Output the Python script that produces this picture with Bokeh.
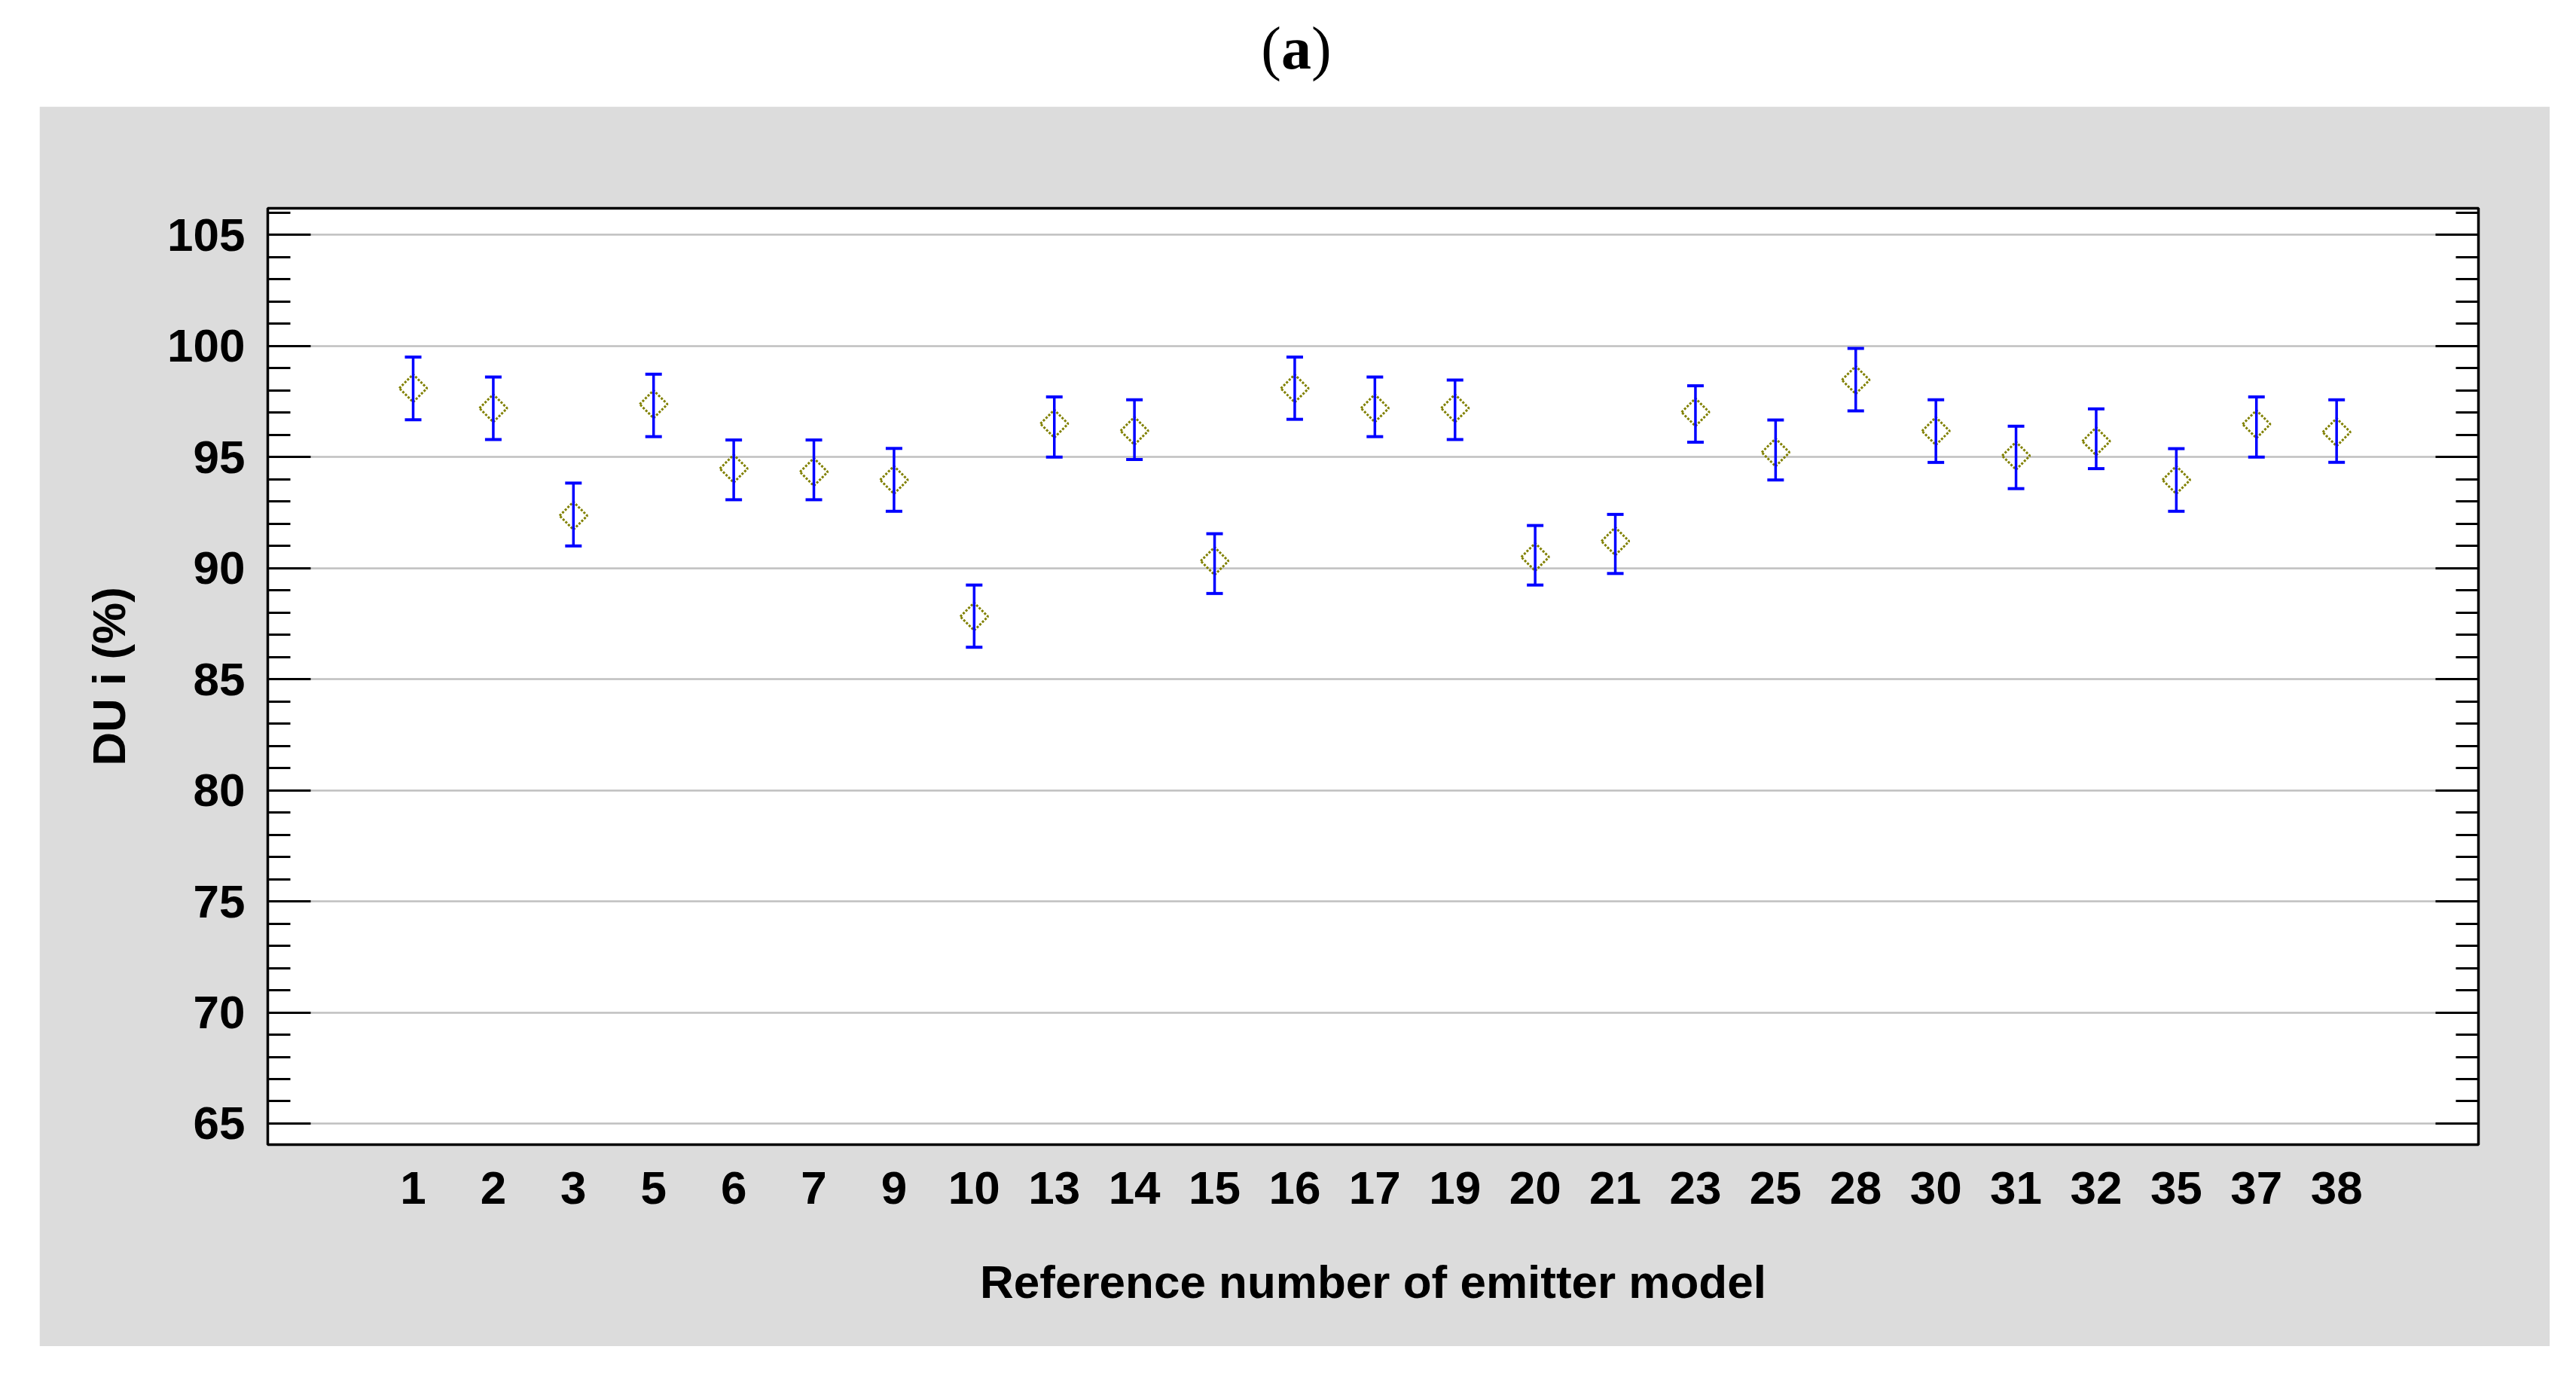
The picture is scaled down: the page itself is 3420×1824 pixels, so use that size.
import numpy as np
from bokeh.plotting import figure
from bokeh.models import (ColumnDataSource, Range1d, LinearAxis, FixedTicker,
                          Whisker, TeeHead, Div, Spacer)
from bokeh.layouts import column, row
from bokeh.embed import file_html
from bokeh.resources import INLINE

# ---- data ----
models = ["1", "2", "3", "5", "6", "7", "9", "10", "13", "14", "15", "16", "17",
          "19", "20", "21", "23", "25", "28", "30", "31", "32", "35", "37", "38"]
du_mean = [98.10, 97.20, 92.36, 97.38, 94.48, 94.33, 93.97, 87.82, 96.50, 96.18,
           90.32, 98.09, 97.20, 97.20, 90.50, 91.21, 97.02, 95.21, 98.47, 96.17,
           95.06, 95.71, 93.97, 96.48, 96.12]
du_upper = [99.50, 98.60, 93.83, 98.73, 95.77, 95.77, 95.39, 89.24, 97.71, 97.58,
            91.55, 99.50, 98.60, 98.47, 91.92, 92.42, 98.21, 96.67, 99.89, 97.58,
            96.39, 97.17, 95.38, 97.71, 97.58]
du_lower = [96.68, 95.79, 91.00, 95.92, 93.08, 93.08, 92.56, 86.44, 95.00, 94.89,
            88.86, 96.70, 95.92, 95.79, 89.24, 89.76, 95.67, 93.97, 97.08, 94.76,
            93.58, 94.48, 92.56, 95.00, 94.76]
y_ticks = [65, 70, 75, 80, 85, 90, 95, 100, 105]
y_minor = list(range(64, 107))

x_pos = list(range(1, len(models) + 1))
src = ColumnDataSource(dict(x=x_pos, mean=du_mean, upper=du_upper, lower=du_lower))

FONT = "Liberation Sans"
GRAY = "#dcdcdc"

p = figure(width=3333, height=1646, output_backend="svg", toolbar_location=None,
           x_range=Range1d(-0.814, 26.77), y_range=Range1d(64.05, 106.2),
           min_border_left=303, min_border_right=95, min_border_top=135,
           min_border_bottom=268,
           background_fill_color="white", border_fill_color=GRAY,
           outline_line_color="black", outline_line_width=3.5)

# grid
p.xgrid.visible = False
p.ygrid.ticker = FixedTicker(ticks=y_ticks)
p.ygrid.grid_line_color = "#c0c0c0"
p.ygrid.grid_line_width = 2.5

# x axis
xa = p.xaxis[0]
xa.ticker = FixedTicker(ticks=x_pos)
xa.major_label_overrides = {x: m for x, m in zip(x_pos, models)}
xa.major_tick_in = 0
xa.major_tick_out = 0
xa.minor_tick_line_color = None
xa.axis_line_color = None
xa.major_label_standoff = 36
xa.major_label_text_font = FONT
xa.major_label_text_font_style = "bold"
xa.major_label_text_font_size = "62px"
xa.major_label_text_color = "black"
xa.axis_label = "Reference number of emitter model"
xa.axis_label_text_font = FONT
xa.axis_label_text_font_style = "bold"
xa.axis_label_text_font_size = "62px"
xa.axis_label_text_color = "black"
xa.axis_label_standoff = 66


def style_y(ax):
    ax.ticker = FixedTicker(ticks=y_ticks, minor_ticks=y_minor)
    ax.major_tick_in = 57
    ax.major_tick_out = 0
    ax.minor_tick_in = 30
    ax.minor_tick_out = 0
    ax.major_tick_line_width = 3
    ax.minor_tick_line_width = 3
    ax.major_tick_line_color = "black"
    ax.minor_tick_line_color = "black"
    ax.axis_line_color = None
    ax.major_label_standoff = 30
    ax.major_label_text_font = FONT
    ax.major_label_text_font_style = "bold"
    ax.major_label_text_font_size = "62px"
    ax.major_label_text_color = "black"


ya = p.yaxis[0]
style_y(ya)
ya.axis_label = "DU i (%)"
ya.axis_label_text_font = FONT
ya.axis_label_text_font_style = "bold"
ya.axis_label_text_font_size = "62px"
ya.axis_label_text_color = "black"
ya.axis_label_standoff = 40

ra = LinearAxis()
style_y(ra)
ra.major_label_overrides = {t: "" for t in y_ticks}
p.add_layout(ra, "right")

# error bars
wh = Whisker(source=src, base="x", upper="upper", lower="lower",
             line_color="#0000ff", line_width=3.5, level="overlay",
             upper_head=TeeHead(size=22, line_color="#0000ff", line_width=4),
             lower_head=TeeHead(size=22, line_color="#0000ff", line_width=4))
p.add_layout(wh)

# mean markers (open olive diamonds)
p.scatter("x", "mean", source=src, marker="square", angle=np.pi / 4, size=26,
          fill_color=None, line_color="#808000", line_width=3, line_dash="3 2")

title = Div(text="(<b>a</b>)", width=3404, height=141, margin=(0, 0, 0, 0),
            styles={"font-family": "'Liberation Serif', 'Times New Roman', serif",
                    "font-size": "80px", "line-height": "128px",
                    "text-align": "center", "color": "black",
                    "padding-left": "38px"})

layout = column(title, row(Spacer(width=52, height=1646), p))

open("out.html", "w").write(file_html(layout, INLINE))
